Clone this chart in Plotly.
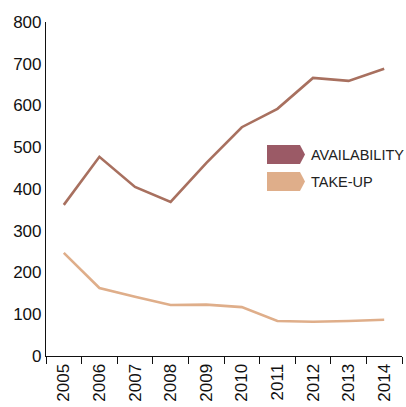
import plotly.graph_objects as go

years = ["2005", "2006", "2007", "2008", "2009", "2010", "2011", "2012", "2013", "2014"]
availability = [362, 477, 405, 369, 462, 548, 592, 666, 659, 688]
take_up = [247, 163, 142, 122, 123, 117, 84, 82, 84, 87]

W, H = 406, 407
ML, MR, MT, MB = 46, 4, 22, 51
PW, PH = W - ML - MR, H - MT - MB

def px(x):
    return (x - ML) / PW

def py(y):
    return (H - MB - y) / PH

fig = go.Figure()
fig.add_trace(go.Scatter(x=years, y=availability, mode="lines",
                         line=dict(color="#a8705f", width=2.6), showlegend=False))
fig.add_trace(go.Scatter(x=years, y=take_up, mode="lines",
                         line=dict(color="#dfae8a", width=2.6), showlegend=False))

# Arrow-tab legend entries
legend = [("AVAILABILITY", "#9b5a66", 145, 164), ("TAKE-UP", "#dfae8a", 172, 191)]
for label, color, top, bot in legend:
    x0, x1, xt = 267, 300, 305
    mid = (top + bot) / 2
    path = (f"M {px(x0)},{py(top)} L {px(x1)},{py(top)} L {px(xt)},{py(mid)} "
            f"L {px(x1)},{py(bot)} L {px(x0)},{py(bot)} Z")
    fig.add_shape(type="path", path=path, xref="paper", yref="paper",
                  fillcolor=color, line=dict(width=0))
    fig.add_annotation(x=px(309), y=py(mid), xref="paper", yref="paper",
                       text=label, showarrow=False, xanchor="left", yanchor="middle",
                       font=dict(family="Liberation Sans, Arial, sans-serif", size=14.5, color="#222"))

fig.update_layout(
    width=W, height=H,
    margin=dict(l=ML, r=MR, t=MT, b=MB, autoexpand=False),
    paper_bgcolor="white", plot_bgcolor="white",
    font=dict(family="Liberation Sans, Arial, sans-serif", color="#111"),
)
fig.update_xaxes(type="category", range=[-0.5, 9.5], tickson="boundaries", ticks="outside", ticklen=7,
                 tickcolor="#111", tickwidth=1.2, showline=True, linecolor="#111", linewidth=1.2,
                 tickangle=-90, tickfont=dict(size=17), showgrid=False, zeroline=False,
                 automargin=False)
fig.update_yaxes(range=[0, 800], dtick=100, showline=True, linecolor="#111", linewidth=1.2,
                 ticks="", tickfont=dict(size=17), showgrid=False, zeroline=False,
                 automargin=False)

fig.write_html("out.html")
